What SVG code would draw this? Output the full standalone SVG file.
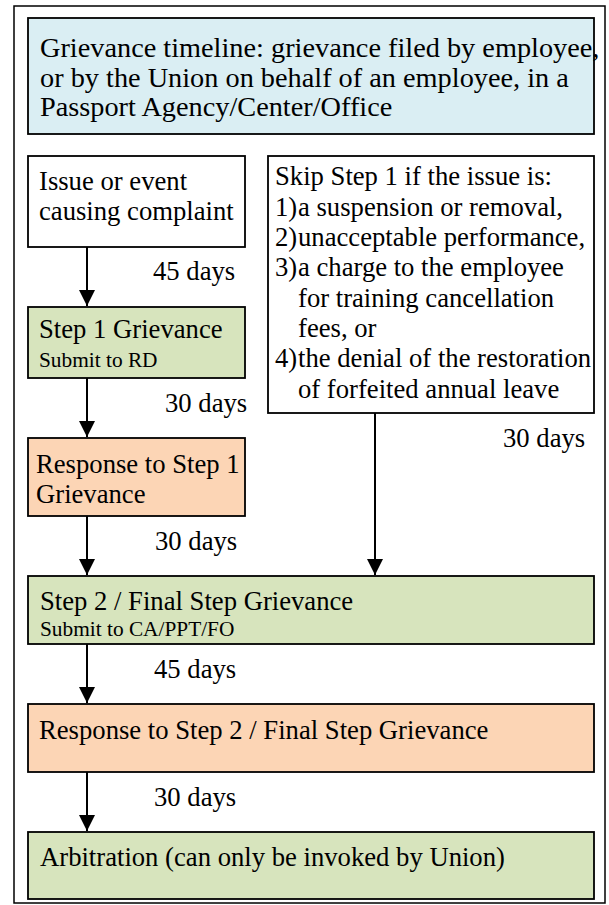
<svg xmlns="http://www.w3.org/2000/svg" width="609" height="905" viewBox="0 0 609 905">
<style>
.t{font-size:26.67px}
.h{font-size:28.3px}
.s{font-size:21.33px}
.box{stroke:#000;stroke-width:1.8}
.blue{fill:#DAEEF3}
.green{fill:#D7E4BD}
.orange{fill:#FCD5B5}
.white{fill:#FFFFFF}
.conn{stroke:#000;stroke-width:2;fill:none}
</style>
<defs>
<marker id="ah" markerWidth="16" markerHeight="16" viewBox="0 0 16 16" refX="16" refY="8" orient="auto" markerUnits="userSpaceOnUse">
<path d="M0,0 L16,8 L0,16 Z" fill="#000"/>
</marker>
</defs>
<g font-family="Liberation Serif, DejaVu Serif, serif" fill="#000">
<rect x="0" y="0" width="609" height="905" fill="#fff"/>
<rect id="frame" x="14" y="6" width="591" height="897" fill="none" stroke="#000" stroke-width="1.5"/>

<g id="title">
<rect class="box blue" x="28" y="18" width="566" height="116"/>
<text class="h" x="40" y="57">Grievance timeline: grievance filed by employee,</text>
<text class="h" x="40" y="87">or by the Union on behalf of an employee, in a</text>
<text class="h" x="40" y="116">Passport Agency/Center/Office</text>
</g>

<g id="issue">
<rect class="box white" x="28" y="156" width="217" height="91"/>
<text class="t" x="39" y="190">Issue or event</text>
<text class="t" x="39" y="220">causing complaint</text>
</g>

<g id="skip">
<rect class="box white" x="268" y="156" width="326" height="257"/>
<text class="t" x="275" y="185">Skip Step 1 if the issue is:</text>
<text class="t" x="275" y="216">1)</text><text class="t" x="298" y="216">a suspension or removal,</text>
<text class="t" x="275" y="246">2)</text><text class="t" x="298" y="246">unacceptable performance,</text>
<text class="t" x="275" y="276">3)</text><text class="t" x="298" y="276">a charge to the employee</text>
<text class="t" x="298" y="307">for training cancellation</text>
<text class="t" x="298" y="337">fees, or</text>
<text class="t" x="275" y="367">4)</text><text class="t" x="298" y="367">the denial of the restoration</text>
<text class="t" x="298" y="398">of forfeited annual leave</text>
</g>

<g id="step1">
<rect class="box green" x="28" y="307" width="217" height="71"/>
<text class="t" x="39" y="338">Step 1 Grievance</text>
<text class="s" x="39" y="367">Submit to RD</text>
</g>

<g id="response1">
<rect class="box orange" x="28" y="438" width="217" height="78"/>
<text class="t" x="36" y="473">Response to Step 1</text>
<text class="t" x="36" y="503">Grievance</text>
</g>

<g id="step2">
<rect class="box green" x="28" y="576" width="566" height="68"/>
<text class="t" x="40" y="610">Step 2 / Final Step Grievance</text>
<text class="s" x="40" y="636">Submit to CA/PPT/FO</text>
</g>

<g id="response2">
<rect class="box orange" x="28" y="704" width="566" height="68"/>
<text class="t" x="39" y="739">Response to Step 2 / Final Step Grievance</text>
</g>

<g id="arbitration">
<rect class="box green" x="28" y="832" width="566" height="67"/>
<text class="t" x="40" y="866">Arbitration (can only be invoked by Union)</text>
</g>

<g id="connectors">
<line class="conn" x1="87" y1="247" x2="87" y2="306" marker-end="url(#ah)"/>
<line class="conn" x1="87" y1="378" x2="87" y2="437" marker-end="url(#ah)"/>
<line class="conn" x1="87" y1="516" x2="87" y2="575" marker-end="url(#ah)"/>
<line class="conn" x1="375" y1="413" x2="375" y2="575" marker-end="url(#ah)"/>
<line class="conn" x1="87" y1="644" x2="87" y2="703" marker-end="url(#ah)"/>
<line class="conn" x1="87" y1="772" x2="87" y2="831" marker-end="url(#ah)"/>
<text class="t" x="153" y="280">45 days</text>
<text class="t" x="165" y="412">30 days</text>
<text class="t" x="155" y="550">30 days</text>
<text class="t" x="503" y="447">30 days</text>
<text class="t" x="154" y="678">45 days</text>
<text class="t" x="154" y="806">30 days</text>
</g>
</g>
</svg>
